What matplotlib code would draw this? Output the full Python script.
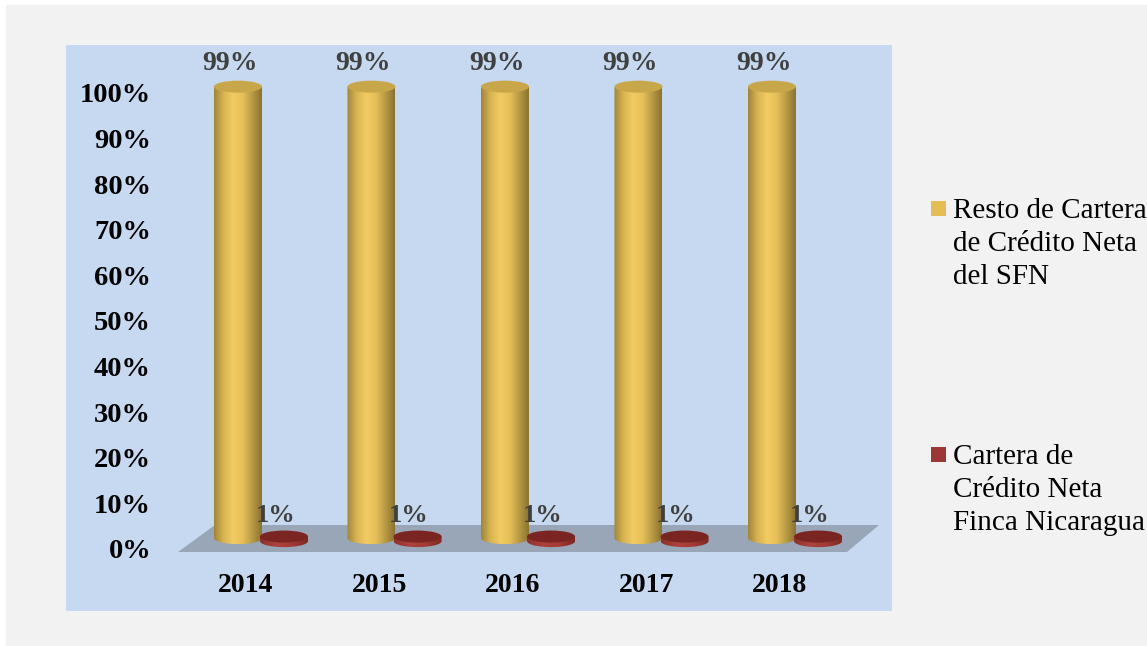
import numpy as np
import matplotlib
matplotlib.use("Agg")
import matplotlib.pyplot as plt
from matplotlib.patches import Ellipse, Polygon, Rectangle
from matplotlib.colors import LinearSegmentedColormap

# datos
years = ["2014", "2015", "2016", "2017", "2018"]
resto = [99, 99, 99, 99, 99]
finca = [1, 1, 1, 1, 1]
series_names = ["Resto de Cartera\nde Crédito Neta\ndel SFN",
                "Cartera de\nCrédito Neta\nFinca Nicaragua"]
yticks = list(range(0, 101, 10))

W, H = 1147, 646
fig = plt.figure(figsize=(W / 100, H / 100), dpi=100)
fig.patch.set_facecolor("white")
fig.patches.append(Rectangle((6 / W, 0), 1, (H - 5) / H, transform=fig.transFigure,
                             facecolor="#f2f2f2", edgecolor="none", zorder=-10))

# area de grafico (azul)
L, R, T, B = 66, 892, 45, 611
ax = fig.add_axes([L / W, (H - B) / H, (R - L) / W, (B - T) / H])
ax.set_facecolor("#c6d9f0")
for s in ax.spines.values():
    s.set_visible(False)
ax.set_xticks([])
ax.set_yticks([])

# escalas: 1 categoria = 133.5 px, 1% = 4.56 px; categoria 0 en x=246 px, 0% en y=552 px
px_x, px_y = 133.5, 4.56
x0, y0 = 246, 552
ax.set_xlim((L - x0) / px_x, (R - x0) / px_x)
ax.set_ylim((y0 - B) / px_y, (y0 - T) / px_y)

serif = "Liberation Serif"

# piso
floor = Polygon([((178 - x0) / px_x, 0), ((215 - x0) / px_x, 27 / px_y),
                 ((879 - x0) / px_x, 27 / px_y), ((847 - x0) / px_x, 0)],
                closed=True, facecolor="#98a6b8", edgecolor="none", zorder=1)
ax.add_patch(floor)

gold_cmap = LinearSegmentedColormap.from_list(
    "gold", ["#a08538", "#d8b452", "#f2cb62", "#e6bf58", "#b89a45", "#8a7230"])
red_cmap = LinearSegmentedColormap.from_list(
    "red", ["#8e2f2a", "#ab423b", "#a33a34", "#7e2823"])
grad = np.linspace(0, 1, 256).reshape(1, -1)


def cylinder(xc, base, value, width, eh, cmap, top_color, z):
    hw = width / 2
    top = base + value
    t = np.linspace(np.pi, 2 * np.pi, 60)
    bx = xc + hw * np.cos(t)
    by = base + eh / 2 * np.sin(t)
    verts = [(xc - hw, top)] + list(zip(bx, by)) + [(xc + hw, top), (xc - hw, top)]
    body = Polygon(verts, closed=True, facecolor="none", edgecolor="none", zorder=z)
    ax.add_patch(body)
    im = ax.imshow(grad, cmap=cmap, aspect="auto", extent=(xc - hw, xc + hw, base - eh, top),
                   zorder=z, interpolation="bilinear")
    im.set_clip_path(body)
    ax.add_patch(Ellipse((xc, top), width, eh, facecolor=top_color, edgecolor="none", zorder=z + 0.1))


gold_dx, red_dx = -0.06, 0.285
for i, (a, b) in enumerate(zip(resto, finca)):
    cylinder(i + gold_dx, 14 / px_y - 0.02, a, 48 / px_x, 12 / px_y, gold_cmap, "#c8a74b", 3)
    cylinder(i + red_dx, 15 / px_y - 0.9, b, 48 / px_x, 12 / px_y, red_cmap, "#7a2521", 3)
    ax.text(i - 0.12, (y0 - 64) / px_y, f"{a}%", ha="center", va="center", fontsize=20,
            fontweight="bold", family=serif, color="#404040", zorder=5)
    ax.text(i + 0.22, (y0 - 515) / px_y, f"{b}%", ha="center", va="center", fontsize=19,
            fontweight="bold", family=serif, color="#404040", zorder=5)
    ax.text(i, (y0 - 585) / px_y, years[i], ha="center", va="center", fontsize=20,
            fontweight="bold", family=serif, color="black")

for v in yticks:
    ax.text((151 - x0) / px_x, v, f"{v}%", ha="right", va="center", fontsize=20.5,
            fontweight="bold", family=serif, color="black")

# leyenda
colors = ["#e4bd55", "#9b3835"]
leg_y = [201, 447]
for name, c, ly in zip(series_names, colors, leg_y):
    fig.patches.append(Rectangle((931 / W, (H - ly - 15) / H), 15 / W, 15 / H,
                                 transform=fig.transFigure, facecolor=c, edgecolor="none"))
    fig.text(953 / W, (H - ly + 3) / H, name, ha="left", va="top", fontsize=21,
             family=serif, color="black", linespacing=1.36)

fig.savefig("out.png", dpi=100)
